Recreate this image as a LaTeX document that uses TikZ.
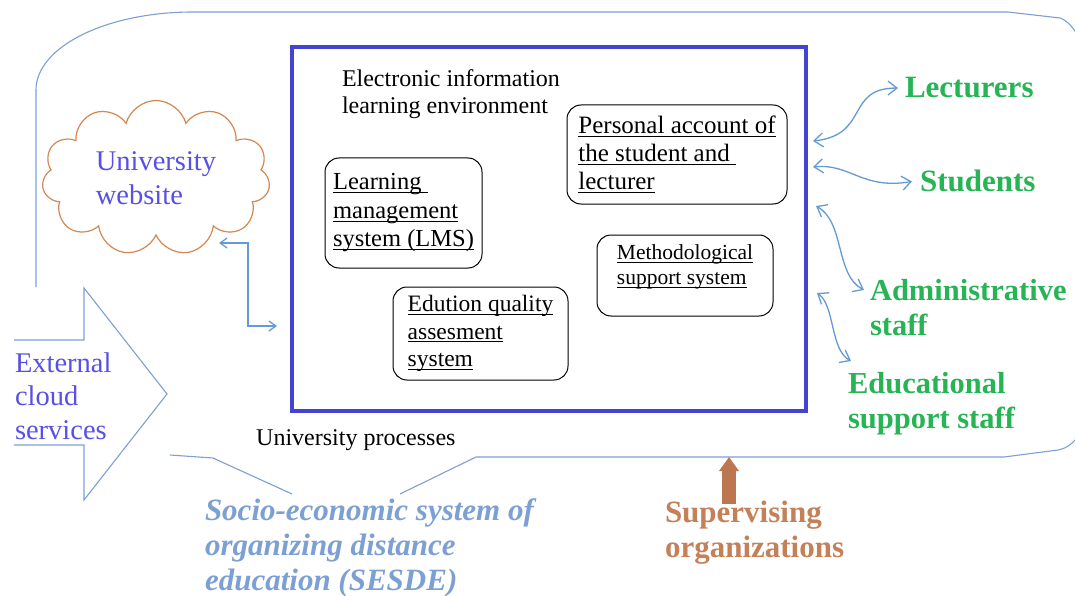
\documentclass[tikz,border=0pt]{standalone}
\usepackage{fontspec}
\setmainfont{Liberation Serif}
\usetikzlibrary{shapes.symbols,arrows.meta,calc}
\definecolor{connblue}{RGB}{100,155,215}
\definecolor{outl}{RGB}{125,160,212}
\definecolor{rectblue}{RGB}{68,68,208}
\definecolor{grn}{RGB}{38,180,85}
\definecolor{purp}{RGB}{88,80,228}
\definecolor{cloudor}{RGB}{212,135,80}
\definecolor{brownarr}{RGB}{188,118,80}
\definecolor{suptext}{RGB}{196,128,88}
\definecolor{sesde}{RGB}{125,160,212}
\newcommand\uln[1]{\setbox0=\hbox{#1}\rlap{\rule[-3.2pt]{\wd0}{0.9pt}}\box0}
\tikzset{
  txt/.style={inner sep=0pt, outer sep=0pt, align=left, anchor=north west},
  rbox/.style={draw=black, line width=1pt, rounded corners=14pt, align=left, inner sep=0pt, outer sep=0pt},
  conn/.style={draw=connblue, line width=1.3pt, arrows={Straight Barb[length=9pt,width=14pt]-Straight Barb[length=9pt,width=14pt]}},
  connsmall/.style={draw=connblue, line width=1.3pt, arrows={Straight Barb[length=7pt,width=10pt]-Straight Barb[length=7pt,width=10pt]}},
  outline/.style={draw=outl, line width=1.1pt},
  grntxt/.style={txt, text=grn, font=\fontsize{30.5}{35}\selectfont\bfseries},
}
\begin{document}
\begin{tikzpicture}[x=1pt,y=-1pt]
\useasboundingbox (0,0) rectangle (1075,596);
\fill[white] (0,0) rectangle (1075,596);

% outer boundary of the socio-economic system
\draw[outline] (36,287) -- (36,90) .. controls (36,47) and (106,12) .. (193,12) -- (1008,12) -- (1060,18) .. controls (1068,21) and (1074,28) .. (1080,40);
\draw[outline] (1080,434) .. controls (1073,443) and (1068,448) .. (1058,450) -- (1004,457) -- (476,457) -- (400,494);
\draw[outline] (292,494) -- (213,458) -- (170,455);

% external cloud services block arrow
\draw[outline] (14,340) -- (84,340) -- (84,288) -- (167,394) -- (84,500) -- (84,445) -- (14,445);
\node[txt, text=purp, font=\fontsize{28.5}{33.5}\selectfont] (ext) at (15,352.5) {External\\cloud\\services};

% main environment rectangle
\node[draw=rectblue, line width=4pt, minimum width=514, minimum height=364, inner sep=0pt, outer sep=0pt] (eile) at (549,229) {};
\node[txt, font=\fontsize{24}{27}\selectfont] (title) at (342,69.6) {Electronic information\\learning environment};

\node[rbox, minimum width=157, minimum height=110, font=\fontsize{24.5}{28.5}\selectfont] (lms) at (403.5,213) {\uln{Learning\ }\\\uln{management}\\\uln{system (LMS)}};
\node[rbox, minimum width=220, minimum height=99, font=\fontsize{25}{28}\selectfont] (pa) at (677,154.5) {\uln{Personal account of}\\\uln{the student and\ }\\\uln{lecturer}};
\node[rbox, minimum width=176, minimum height=81, font=\fontsize{21.5}{25}\selectfont] (msys) at (685,275.5) {\uln{Methodological}\\\uln{support system}\\[-3pt]\mbox{}};
\node[rbox, minimum width=175, minimum height=93, font=\fontsize{23.5}{27.5}\selectfont] (eqa) at (480.5,333.5) {\uln{Edution quality}\\\uln{assesment}\\\uln{system}};

\node[inner sep=0pt, anchor=base west, font=\fontsize{24}{27}\selectfont] (uproc) at (256,445) {University processes};

% university website cloud
\node[cloud, cloud puffs=11, cloud ignores aspect, draw=cloudor, line width=1.2pt, minimum width=228, minimum height=155, align=left, text=purp, font=\fontsize{28.5}{34}\selectfont, inner sep=0pt] (web) at (156,178) {University\\website};

% actors
\node[grntxt, anchor=base west, font=\fontsize{31}{35}\selectfont\bfseries] (lect) at (905,98) {Lecturers};
\node[grntxt, anchor=base west, font=\fontsize{31}{35}\selectfont\bfseries] (stud) at (920,192) {Students};
\node[grntxt] (adm) at (870,279) {Administrative\\staff};
\node[grntxt] (edu) at (848,372) {Educational\\support staff};

% supervising organizations
\node[txt, text=suptext, font=\fontsize{31}{35}\selectfont\bfseries] (sup) at (665,501) {Supervising\\organizations};
\coordinate (bline) at (729,457);
\draw[draw=brownarr, line width=14pt, -{Triangle[length=14pt,width=19pt]}] ($(sup.north west)+(64,3)$) -- (bline);

% SESDE label
\node[txt, text=sesde, font=\fontsize{31}{35}\selectfont\bfseries\itshape] (sesdel) at (205,499) {Socio-economic system of\\organizing distance\\education (SESDE)};

% connectors
\draw[conn] ($(eile.north east)+(7,94)$) .. controls (870,135) and (845,88) .. ([xshift=-7pt]lect.west);
\draw[conn] ($(eile.north east)+(7,120)$) .. controls (850,163) and (862,190) .. ([xshift=-8pt]stud.west);
\draw[conn] ($(eile.north east)+(10,159)$) .. controls (845,222) and (835,275) .. ([xshift=-6pt,yshift=-11pt]adm.north west);
\draw[conn] ($(eile.north east)+(11,246)$) .. controls (835,305) and (830,350) .. ([xshift=3pt,yshift=11pt]edu.north west);
\draw[connsmall] ($(web.center)+(63,65)$) -- ++(29,0) |- ($(eile.south west)+(-15,-85)$);
\end{tikzpicture}
\end{document}
